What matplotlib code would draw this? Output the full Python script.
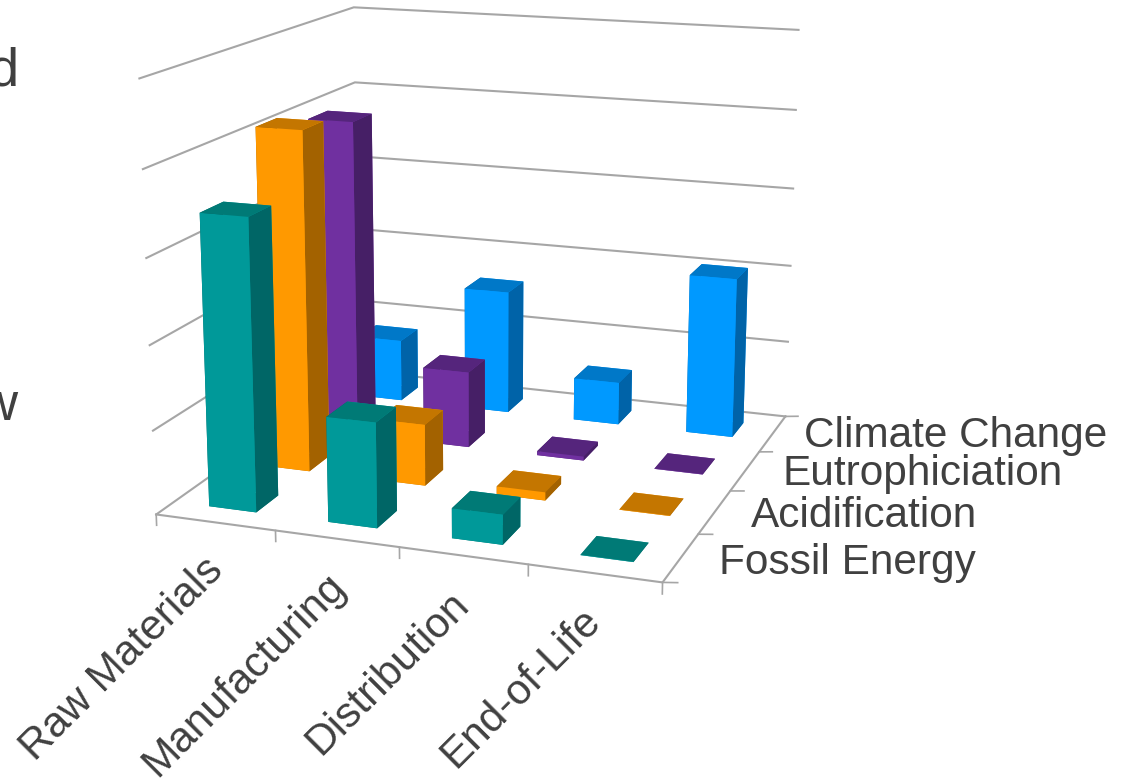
import matplotlib
matplotlib.use("Agg")
import matplotlib.pyplot as plt

W, H = 1125, 779
plt.rcParams['font.family'] = ['Liberation Sans', 'DejaVu Sans']

stages = ['Raw Materials', 'Manufacturing', 'Distribution', 'End-of-Life']
impacts = ['Fossil Energy', 'Acidification', 'Eutrophiciation', 'Climate Change']

fossil_energy = [3.45, 1.24, 0.35, 0.005]
acidification = [4.15, 0.75, 0.10, 0.005]
eutrophication = [3.98, 0.96, 0.05, 0.005]
climate_change = [0.81, 1.60, 0.55, 2.04]

front_colors = ['#009999', '#FF9900', '#7030A0', '#0099FF']
top_colors = ['#007A76', '#C47600', '#55257C', '#0078C8']
side_colors = ['#006666', '#A36200', '#461F66', '#0063A8']

grid_color = '#A6A6A6'
text_color = '#404040'
z_max = 5

fig = plt.figure(figsize=(W / 100, H / 100), dpi=100)
# axes placed so the floor and the walls land where they are in the picture
ax = fig.add_axes([79.5 / W, 105.7 / H, 800.6 / W, 800.6 / H], projection='3d', computed_zorder=False)
ax.set_xlim(0, 4, view_margin=0)
ax.set_ylim(0, 4, view_margin=0)
ax.set_zlim(0, z_max, view_margin=0)
ax.view_init(elev=14.312, azim=-70.313, roll=-0.012)
ax.set_proj_type('persp', focal_length=0.5233)
ax.set_box_aspect((1, 0.9934, 0.8414))
ax.set_axis_off()

# walls
for z in range(z_max + 1):
    ax.plot([0, 0, 4], [0, 4, 4], [z, z, z], color=grid_color, lw=1.5, solid_joinstyle='miter', zorder=1)

# floor edges and ticks
ax.plot([0, 4, 4], [0, 0, 4], [0, 0, 0], color=grid_color, lw=1.5, solid_joinstyle='miter', zorder=1)
for i in range(5):
    ax.plot([i, i], [0, 0], [0, -0.13], color=grid_color, lw=1.2, zorder=1)
    ax.plot([4, 4.11], [i, i], [0, 0.02], color=grid_color, lw=1.2, zorder=1)

# back row first so the front bars cover it
series = [fossil_energy, acidification, eutrophication, climate_change]
order = 2
for j in reversed(range(4)):
    for i in range(4):
        colors = [top_colors[j], top_colors[j], front_colors[j], front_colors[j], side_colors[j], side_colors[j]]
        ax.bar3d(i + 0.3, j + 0.3, 0, 0.4, 0.4, series[j][i], color=colors, shade=False,
                 linewidth=0, zorder=order)
        order += 1

stage_pos = [(122, 659), (244, 675), (388, 673), (521, 688)]
for name, (x, y) in zip(stages, stage_pos):
    fig.text(x / W, 1 - y / H, name, fontsize=30.5, color=text_color, rotation=45,
             ha='center', va='center', rotation_mode='anchor')

impact_pos = [(719, 574), (751, 527), (782, 485), (804, 447)]
for name, (x, y) in zip(impacts, impact_pos):
    fig.text(x / W, 1 - y / H, name, fontsize=30.5, color=text_color, ha='left', va='baseline')

# ends of two words cut off by the left edge
fig.text(19 / W, 1 - 85 / H, 'd', fontsize=39, color=text_color, ha='right', va='baseline')
fig.text(17 / W, 1 - 420 / H, 'w', fontsize=39, color=text_color, ha='right', va='baseline')

fig.savefig('out.png', dpi=100)
